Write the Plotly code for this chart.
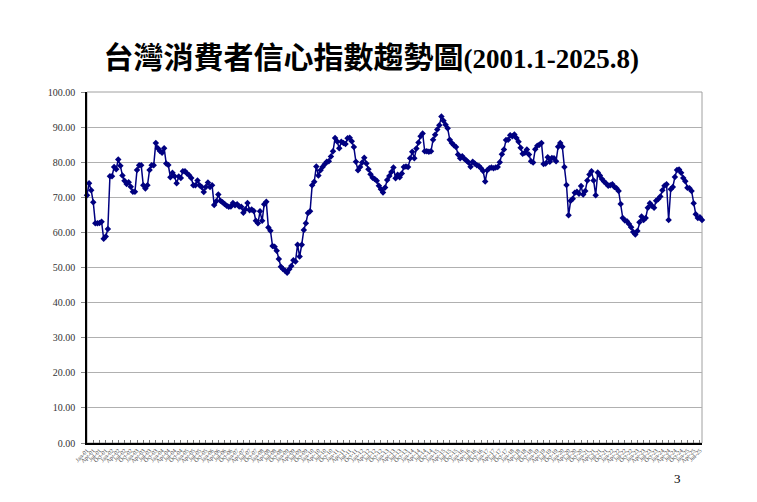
#%%
# 台灣消費者信心指數趨勢圖 (2001.1-2025.8)
import plotly.graph_objects as go

#%%
# monthly index values, one row per year
cci_values = [
    70.6, 74.0, 72.0, 68.6, 62.6, 62.6, 62.7, 63.0, 58.2, 58.8, 61.0, 76.0,  # 2001
    76.0, 78.6, 78.0, 80.8, 79.0, 76.2, 74.7, 73.8, 74.3, 73.0, 71.6, 71.6,  # 2002
    77.8, 79.1, 79.1, 73.4, 72.5, 73.4, 77.8, 79.1, 79.1, 85.5, 84.0, 83.2,  # 2003
    82.7, 84.0, 79.6, 79.2, 75.7, 77.0, 76.0, 74.0, 75.9, 75.5, 77.4, 77.4,  # 2004
    76.8, 76.3, 75.5, 73.4, 73.4, 74.8, 73.4, 72.9, 71.5, 72.9, 74.2, 72.9,  # 2005
    73.4, 67.8, 68.9, 70.8, 69.0, 68.6, 68.1, 67.6, 67.3, 67.4, 68.4, 67.7,  # 2006
    68.0, 67.4, 67.3, 65.6, 66.6, 68.4, 66.3, 66.5, 66.1, 63.3, 62.6, 66.0,  # 2007
    63.3, 68.0, 68.7, 61.4, 60.5, 56.1, 55.9, 54.8, 52.4, 50.2, 49.6, 49.1,  # 2008
    48.5, 49.5, 50.4, 52.1, 51.7, 56.5, 53.1, 56.5, 60.7, 62.6, 65.5, 66.0,  # 2009
    73.4, 74.4, 78.8, 76.2, 77.7, 78.6, 79.4, 80.1, 80.3, 81.6, 83.1, 86.9,  # 2010
    85.9, 84.0, 85.8, 85.5, 85.2, 86.8, 87.0, 86.0, 84.3, 80.1, 77.7, 78.6,  # 2011
    79.9, 81.3, 79.6, 78.0, 76.6, 75.6, 75.2, 74.7, 73.3, 72.3, 71.4, 72.8,  # 2012
    74.9, 76.1, 77.2, 78.5, 75.4, 76.4, 75.7, 76.8, 78.6, 78.8, 78.6, 81.1,  # 2013
    83.0, 81.1, 83.9, 85.6, 87.4, 88.2, 83.1, 83.1, 83.0, 83.1, 86.4, 87.8,  # 2014
    89.3, 90.5, 93.0, 91.8, 90.7, 89.7, 86.4, 85.5, 84.8, 84.3, 82.2, 81.1,  # 2015
    81.7, 81.0, 80.5, 79.9, 78.7, 80.1, 79.6, 79.1, 78.9, 78.3, 77.5, 74.5,  # 2016
    77.7, 78.3, 78.5, 78.3, 78.5, 78.6, 80.0, 82.3, 83.6, 86.3, 86.4, 87.7,  # 2017
    87.4, 87.9, 86.9, 85.8, 84.1, 82.4, 82.7, 83.6, 82.2, 80.3, 79.9, 83.7,  # 2018
    84.7, 85.0, 85.5, 79.5, 79.6, 81.4, 80.1, 81.2, 81.1, 80.3, 84.4, 85.5,  # 2019
    84.4, 78.6, 73.5, 64.9, 69.0, 69.6, 71.3, 71.6, 71.0, 73.2, 70.8, 71.8,  # 2020
    74.8, 76.5, 77.4, 74.8, 70.6, 77.1, 76.2, 75.2, 74.5, 73.9, 73.3, 73.4,  # 2021
    73.7, 72.9, 72.6, 71.8, 68.1, 64.1, 63.4, 63.2, 62.4, 61.5, 60.1, 59.4,  # 2022
    60.4, 62.9, 64.5, 63.5, 64.1, 67.0, 68.3, 67.6, 67.0, 69.0, 69.5, 70.2,  # 2023
    72.0, 73.3, 73.7, 63.5, 72.3, 72.9, 75.8, 77.8, 77.9, 77.0, 75.5, 74.6,  # 2024
    72.7, 72.6, 71.8, 68.3, 65.2, 64.1, 64.3, 63.5,                          # 2025
]

years = list(range(2001, 2026))
month_names = ["Jan", "Feb", "Mar", "Apr", "May", "Jun",
               "Jul", "Aug", "Sep", "Oct", "Nov", "Dec"]

# category labels Jan-01 ... Aug-25
months = [f"{m}-{str(y)[2:]}" for y in years for m in month_names][:len(cci_values)]

y_ticks = [0, 10, 20, 30, 40, 50, 60, 70, 80, 90, 100]

#%%
navy = "#000080"

trace = go.Scatter(
    x=months,
    y=cci_values,
    mode="lines+markers",
    line=dict(color=navy, width=1.5),
    marker=dict(symbol="diamond", size=5, color=navy),
    cliponaxis=False,
    hoverinfo="x+y",
)

# the page body adds an 8px offset, so margins are shifted up/left by 8
layout = go.Layout(
    width=757,
    height=502,
    margin=dict(l=79, r=63, t=84, b=67),
    paper_bgcolor="white",
    plot_bgcolor="white",
    showlegend=False,
    title=dict(
        text="台灣消費者信心指數趨勢圖"
             "<span style='font-family:Liberation Serif;font-size:27px'>(2001.1-2025.8)</span>",
        font=dict(family="Noto Sans CJK TC", size=30, color="black", weight="bold"),
        x=0.48,
        xanchor="center",
        y=1 - 49 / 502,
        yanchor="middle",
        yref="container",
    ),
    xaxis=dict(
        type="category",
        range=[0, len(cci_values) - 1],
        tickmode="array",
        tickvals=months[::3],
        ticktext=months[::3],
        tickangle=-45,
        tickfont=dict(family="Liberation Serif", size=6, color="#444444"),
        ticks="inside",
        ticklen=3,
        tickcolor="#777777",
        showgrid=False,
        showline=True,
        linecolor="black",
        linewidth=1.5,
        zeroline=False,
        automargin=False,
        fixedrange=True,
    ),
    yaxis=dict(
        range=[0, 100],
        tickmode="array",
        tickvals=y_ticks,
        ticktext=[f"{v:.2f}" for v in y_ticks],
        tickfont=dict(family="Liberation Serif", size=10, color="#333333"),
        ticks="outside",
        ticklen=4,
        tickcolor="#888888",
        showgrid=True,
        gridcolor="#b0b0b0",
        gridwidth=1,
        showline=True,
        linecolor="black",
        linewidth=1.5,
        zeroline=False,
        ticklabelstandoff=4,
        automargin=False,
        fixedrange=True,
    ),
    shapes=[
        # grey frame on the top and right of the plot area
        dict(type="rect", xref="paper", yref="paper", x0=0, x1=1, y0=0, y1=1,
             line=dict(color="#a0a0a0", width=1), layer="below"),
    ],
    annotations=[
        dict(text="3", xref="paper", yref="paper", x=0.96, y=-0.10,
             xanchor="center", yanchor="middle", showarrow=False,
             font=dict(family="Liberation Serif", size=13, color="black")),
    ],
)

fig = go.Figure(data=[trace], layout=layout)
fig.write_html("out.html")
